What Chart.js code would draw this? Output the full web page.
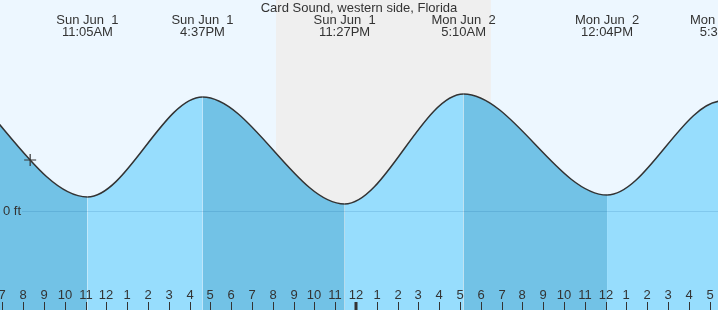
<!DOCTYPE html>
<html>
<head>
<meta charset="utf-8">
<script src="https://cdn.jsdelivr.net/npm/chart.js@4.4.0/dist/chart.umd.min.js"></script>
<style>
  html, body { margin: 0; padding: 0; background: #fff; }
  #wrap { width: 718px; height: 310px; }
</style>
</head>
<body>
<div id="wrap"><canvas id="tideChart"></canvas></div>
<script>
// hours are counted from Sun Jun 1 00:00, heights in feet
const tideHours = [-2.8, 3.2, 11.083, 16.617, 23.45, 29.167, 36.067, 41.6, 48.0];
const tideFeet  = [0.10, 1.45, 0.14, 1.14, 0.07, 1.17, 0.16, 1.10, 0.12];

// labels printed above the visible highs and lows
const labelHours = [11.083, 16.617, 23.45, 29.167, 36.067, 41.6];
const labelDays  = ["Sun Jun  1", "Sun Jun  1", "Sun Jun  1", "Mon Jun  2", "Mon Jun  2", "Mon Jun  2"];
const labelTimes = ["11:05AM", "4:37PM", "11:27PM", "5:10AM", "12:04PM", "5:36PM"];

// night (sunset -> sunrise)
const nightStart = [20.15];
const nightEnd   = [30.48];

// current time marker
const nowHour = [8.33];
const nowFeet = [0.51];

// hour ticks along the bottom
const hourTicks = [];
for (let h = 7; h <= 41; h++) hourTicks.push(h);

const title = "Card Sound, western side, Florida";

const DARK = "#72C2E6";
const LIGHT = "#97DDFD";
const TEXT = "#333";
const FONT = "13px 'Liberation Sans', Arial, sans-serif";

const tidePlugin = {
  id: "tide",
  beforeDraw(chart) {
    const {ctx, width, height} = chart;
    const x = chart.scales.x;
    ctx.save();
    ctx.fillStyle = "#EDF7FF";
    ctx.fillRect(0, 0, width, height);
    ctx.fillStyle = "#EFEFEF";
    nightStart.forEach((s, i) => {
      const x0 = x.getPixelForValue(s);
      const x1 = x.getPixelForValue(nightEnd[i]);
      ctx.fillRect(x0, 0, x1 - x0, height);
    });
    ctx.restore();
  },
  afterDatasetsDraw(chart) {
    const {ctx, width, height} = chart;
    const x = chart.scales.x;
    const y = chart.scales.y;
    ctx.save();

    // zero line
    const y0 = Math.round(y.getPixelForValue(0)) + 0.5;
    ctx.strokeStyle = "rgba(0, 80, 140, 0.14)";
    ctx.lineWidth = 1;
    ctx.beginPath();
    ctx.moveTo(22, y0);
    ctx.lineTo(width, y0);
    ctx.stroke();

    ctx.font = FONT;
    ctx.fillStyle = TEXT;
    ctx.textBaseline = "middle";
    ctx.textAlign = "left";
    ctx.fillText("0 ft", 3, y0);

    // hour ticks
    ctx.textAlign = "center";
    ctx.strokeStyle = TEXT;
    hourTicks.forEach(h => {
      const px = Math.round(x.getPixelForValue(h));
      const hr = ((h - 1) % 12) + 1;
      ctx.fillText(String(hr), px, 295);
      if (h % 24 === 0) {
        ctx.fillRect(px - 1.5, 302, 3, height - 302);
      } else {
        ctx.lineWidth = 1;
        ctx.beginPath();
        ctx.moveTo(px + 0.5, 302);
        ctx.lineTo(px + 0.5, height);
        ctx.stroke();
      }
    });

    // title + high/low labels
    ctx.fillText(title, width / 2, 8);
    labelHours.forEach((h, i) => {
      const px = x.getPixelForValue(h);
      ctx.fillText(labelDays[i], px, 20);
      ctx.fillText(labelTimes[i], px, 32);
    });
    ctx.restore();
  }
};

new Chart(document.getElementById("tideChart"), {
  type: "line",
  data: {
    datasets: [{
      order: 1,
      data: tideHours.map((h, i) => ({x: h, y: tideFeet[i]})),
      borderColor: "#333",
      borderWidth: 1.5,
      pointRadius: 0,
      cubicInterpolationMode: "monotone",
      fill: "start",
      backgroundColor: LIGHT,
      segment: {
        backgroundColor: ctx => ctx.p1.parsed.y < ctx.p0.parsed.y ? DARK : LIGHT
      }
    }, {
      order: 0,
      data: nowHour.map((h, i) => ({x: h, y: nowFeet[i]})),
      showLine: false,
      pointStyle: "cross",
      pointRadius: 6,
      borderColor: "#333",
      borderWidth: 1.2
    }]
  },
  options: {
    responsive: true,
    maintainAspectRatio: false,
    animation: false,
    layout: { padding: 0, autoPadding: false },
    plugins: {
      legend: { display: false },
      tooltip: { enabled: false }
    },
    scales: {
      x: { type: "linear", min: 6.88, max: 41.4, display: false },
      y: { min: -0.99, max: 2.11, display: false }
    }
  },
  plugins: [tidePlugin]
});
</script>
</body>
</html>
